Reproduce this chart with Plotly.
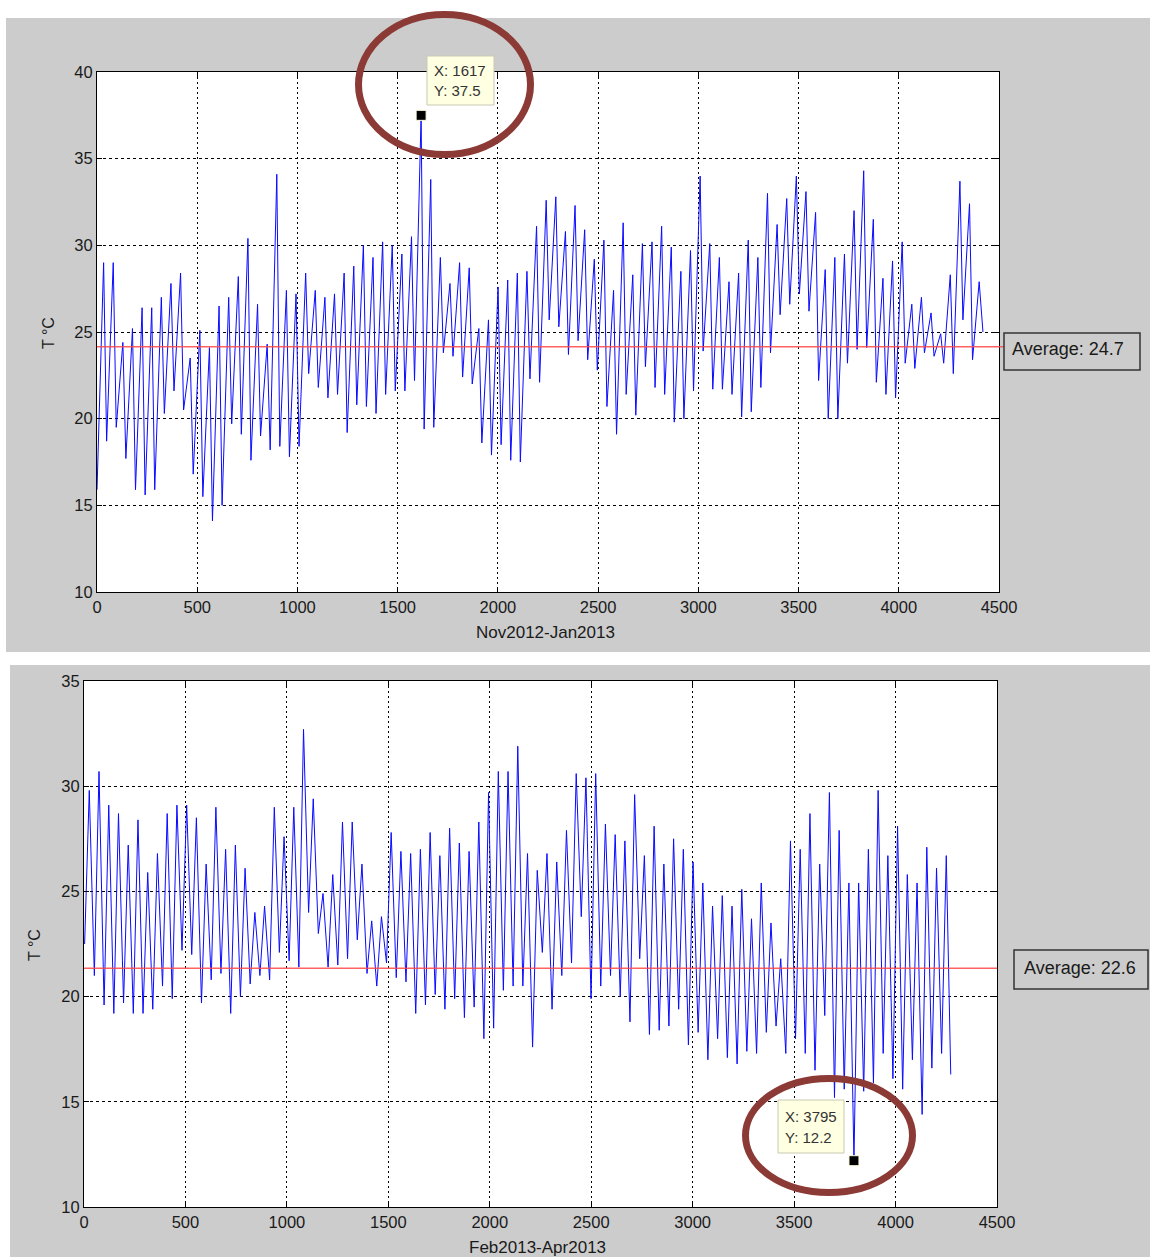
import plotly.graph_objects as go

# ---------------- data ----------------
# Nov2012-Jan2013: one daily minimum and one daily maximum (deg C), 48 samples/day
top_troughs = [15.9, 18.7, 19.5, 17.7, 15.9, 15.6, 15.9, 20.3, 21.6, 20.5, 16.8, 15.5,
               14.1, 15.0, 19.7, 19.1, 17.6, 19.0, 18.2, 18.4, 17.8, 18.4, 22.6, 21.8,
               21.2, 21.4, 19.2, 20.8, 20.7, 20.3, 21.4, 21.6, 21.6, 22.2, 19.4, 19.5,
               23.8, 23.6, 22.4, 22.0, 18.6, 17.9, 18.5, 17.6, 17.5, 22.3, 22.1, 25.7,
               25.3, 23.7, 24.5, 23.4, 22.8, 20.7, 19.1, 21.4, 20.2, 23.0, 21.8, 21.4,
               19.8, 20.0, 21.6, 23.9, 21.7, 21.7, 21.4, 20.1, 20.4, 21.8, 23.8, 26.0,
               26.6, 27.2, 26.2, 22.2, 20.0, 20.0, 23.2, 24.0, 24.1, 22.1, 21.4, 21.2,
               23.2, 22.9, 23.8, 23.6, 23.2, 22.6, 25.7, 23.4]
top_peaks = [29.0, 29.0, 24.4, 25.2, 26.4, 26.4, 27.0, 27.8, 28.4, 23.5, 25.1, 24.1,
             26.5, 27.0, 28.2, 30.4, 26.6, 24.3, 34.1, 27.4, 27.2, 28.4, 27.4, 27.0,
             27.2, 28.4, 28.8, 30.0, 29.3, 30.2, 30.0, 29.5, 30.5, 37.5, 33.8, 29.3,
             27.8, 29.0, 28.7, 25.2, 25.7, 27.6, 28.0, 28.4, 28.5, 31.1, 32.6, 32.8,
             30.8, 32.3, 30.9, 29.2, 30.3, 27.4, 31.3, 28.3, 30.1, 30.2, 31.1, 29.9,
             28.5, 29.7, 34.0, 30.1, 29.3, 27.9, 28.4, 30.3, 29.3, 33.0, 31.2, 32.7,
             34.0, 33.1, 31.9, 28.6, 29.3, 29.5, 32.0, 34.3, 31.5, 28.1, 29.1, 30.2,
             26.6, 27.0, 26.1, 24.9, 28.3, 33.7, 32.4, 27.9]
top_last = (4420, 25.0)
top_avg_line = 24.15
top_avg_label = "Average: 24.7"
top_tip = (1617, 37.5)

# Feb2013-Apr2013
bot_troughs = [22.5, 21.0, 19.6, 19.2, 19.7, 19.2, 19.2, 19.4, 20.5, 19.9, 22.2, 22.0,
               19.7, 20.8, 21.1, 19.2, 20.0, 20.6, 21.0, 20.8, 22.1, 21.7, 21.4,
               24.0, 23.0, 21.4, 21.5, 21.8, 22.7, 21.1, 20.5, 21.6, 20.9, 20.7, 19.2,
               19.6, 20.1, 19.4, 19.9, 19.0, 19.5, 18.0, 18.5, 20.3, 20.5, 20.5,
               17.6, 22.1, 19.4, 21.0, 21.6, 23.8, 19.9, 20.5, 21.0, 20.0, 18.8, 21.8,
               18.2, 18.4, 18.6, 19.4, 17.7, 18.3, 17.0, 18.0, 17.1, 16.8,
               17.4, 17.3, 18.3, 18.6, 17.3, 18.0, 17.3, 16.5, 19.1, 15.2, 15.6, 12.2,
               15.5, 15.9, 17.3, 16.1, 15.6, 17.0, 14.4, 16.6, 17.3]
bot_peaks = [29.8, 30.7, 29.1, 28.7, 27.2, 28.4, 25.9, 26.8, 28.7, 29.1, 29.1, 28.5,
             26.3, 29.0, 27.0, 27.2, 26.1, 24.0, 24.3, 29.0, 27.6, 29.0, 32.7,
             29.4, 24.9, 25.8, 28.3, 28.3, 26.3, 23.6, 23.8, 27.8, 26.9, 26.8, 27.0,
             27.8, 26.7, 28.0, 27.3, 26.9, 28.3, 29.7, 30.7, 30.7, 31.9, 26.8,
             26.0, 26.8, 26.4, 27.9, 30.6, 30.4, 30.6, 28.2, 27.7, 27.4, 29.6, 26.7,
             28.1, 26.3, 27.5, 27.0, 26.4, 25.4, 24.3, 24.8, 24.3, 25.1,
             23.7, 25.4, 23.5, 21.8, 27.4, 27.0, 28.7, 26.3, 29.7, 27.9, 25.4, 25.4,
             27.0, 29.8, 26.7, 28.1, 25.8, 25.4, 27.1, 26.1, 26.7]
bot_last = (4272, 16.3)
bot_avg_line = 21.35
bot_avg_label = "Average: 22.6"
bot_tip = (3795, 12.2)

x_ticks = [0, 500, 1000, 1500, 2000, 2500, 3000, 3500, 4000, 4500]
top_y_ticks = [10, 15, 20, 25, 30, 35, 40]
bot_y_ticks = [10, 15, 20, 25, 30, 35]
top_xlabel = "Nov2012-Jan2013"
bot_xlabel = "Feb2013-Apr2013"
ylabel = "T °C"

SAMPLES_PER_DAY = 48


def build(troughs, peaks, t_off, p_off, last):
    xs, ys = [], []
    for d, (lo, hi) in enumerate(zip(troughs, peaks)):
        xs += [d * SAMPLES_PER_DAY + t_off, d * SAMPLES_PER_DAY + p_off]
        ys += [lo, hi]
    xs.append(last[0])
    ys.append(last[1])
    return xs, ys


tx, ty = build(top_troughs, top_peaks, 0, 33, top_last)
bx, by = build(bot_troughs, bot_peaks, 3, 26, bot_last)

# ---------------- layout helpers ----------------
W, H = 1150, 1257


def PX(x):
    return x / W


def PY(y):
    return 1 - y / H


FONT = "Liberation Sans, Arial, sans-serif"
BLUE = "#0a0aff"
BROWN = "#8c3a35"
TXT = "#1a1a1a"

fig = go.Figure()
fig.add_trace(go.Scatter(x=tx, y=ty, mode="lines", line=dict(color=BLUE, width=1),
                         xaxis="x", yaxis="y", showlegend=False, hoverinfo="skip"))
fig.add_trace(go.Scatter(x=bx, y=by, mode="lines", line=dict(color=BLUE, width=1),
                         xaxis="x2", yaxis="y2", showlegend=False, hoverinfo="skip"))
fig.add_trace(go.Scatter(x=[top_tip[0]], y=[top_tip[1]], mode="markers",
                         marker=dict(symbol="square", size=10, color="black",
                                     line=dict(color="#ffffe1", width=1)),
                         xaxis="x", yaxis="y", showlegend=False, cliponaxis=False,
                         hoverinfo="skip"))
fig.add_trace(go.Scatter(x=[bot_tip[0]], y=[bot_tip[1]], mode="markers",
                         marker=dict(symbol="square", size=10, color="black",
                                     line=dict(color="#ffffe1", width=1)),
                         xaxis="x2", yaxis="y2", showlegend=False, cliponaxis=False,
                         hoverinfo="skip"))

axis_common = dict(showline=True, linecolor="black", linewidth=1, mirror="ticks",
                   ticks="inside", ticklen=5, tickcolor="black", showgrid=True,
                   gridcolor="black", gridwidth=1, zeroline=False, automargin=False,
                   tickfont=dict(family=FONT, size=16.5, color=TXT))

fig.update_layout(
    width=W, height=H, autosize=False,
    margin=dict(l=0, r=0, t=0, b=0, pad=0, autoexpand=False),
    paper_bgcolor="#cccccc", plot_bgcolor="white",
    xaxis=dict(domain=[PX(97), PX(999)], range=[0, 4500], tickvals=x_ticks,
               anchor="y", griddash="2px,3px", **axis_common),
    yaxis=dict(domain=[PY(592), PY(72)], range=[10, 40], tickvals=top_y_ticks,
               anchor="x", griddash="3px,3px", **axis_common),
    xaxis2=dict(domain=[PX(84), PX(997)], range=[0, 4500], tickvals=x_ticks,
                anchor="y2", griddash="2px,3px", **axis_common),
    yaxis2=dict(domain=[PY(1207), PY(681)], range=[10, 35], tickvals=bot_y_ticks,
                anchor="x2", griddash="3px,3px", **axis_common),
)

shapes = []
# white strips around the grey figure panels
for (x0, y0, x1, y1) in [(0, 0, 1150, 18), (0, 0, 6, 652), (0, 652, 1150, 665),
                         (0, 665, 10, 1257)]:
    shapes.append(dict(type="rect", xref="paper", yref="paper", x0=PX(x0), x1=PX(x1),
                       y0=PY(y1), y1=PY(y0), fillcolor="white", line=dict(width=0),
                       layer="below"))
# average lines
shapes.append(dict(type="line", xref="x domain", yref="y", x0=0, x1=1.005,
                   y0=top_avg_line, y1=top_avg_line,
                   line=dict(color="rgba(255,70,70,0.85)", width=1.6)))
shapes.append(dict(type="line", xref="x2 domain", yref="y2", x0=0, x1=1.0,
                   y0=bot_avg_line, y1=bot_avg_line,
                   line=dict(color="rgba(255,70,70,0.85)", width=1.6)))
# average boxes
for (x0, y0, x1, y1) in [(1004, 333, 1140, 370), (1014, 950, 1148, 989)]:
    shapes.append(dict(type="rect", xref="paper", yref="paper", x0=PX(x0), x1=PX(x1),
                       y0=PY(y1), y1=PY(y0), fillcolor="#cccccc",
                       line=dict(color="#333333", width=1.5)))
# data tip boxes
for (x0, y0, x1, y1) in [(427, 56, 494, 105), (778, 1100, 844, 1153)]:
    shapes.append(dict(type="rect", xref="paper", yref="paper", x0=PX(x0), x1=PX(x1),
                       y0=PY(y1), y1=PY(y0), fillcolor="#ffffe1",
                       line=dict(color="#c9c9b5", width=1)))
# highlight ellipses
for (x0, y0, x1, y1) in [(358.5, 14.5, 530.5, 154.5), (745.5, 1078.5, 912.5, 1192.5)]:
    shapes.append(dict(type="circle", xref="paper", yref="paper", x0=PX(x0), x1=PX(x1),
                       y0=PY(y1), y1=PY(y0), line=dict(color=BROWN, width=7)))
fig.update_layout(shapes=shapes)

ann = []


def text(x, y, s, size=17, angle=0, xanchor="center", color=TXT):
    ann.append(dict(x=PX(x), y=PY(y), xref="paper", yref="paper", text=s,
                    showarrow=False, textangle=angle, xanchor=xanchor, yanchor="middle",
                    font=dict(family=FONT, size=size, color=color)))


text(48, 333, ylabel, size=16)
ann[-1]["textangle"] = -90
text(545, 632, top_xlabel)
text(35, 945, ylabel, size=16)
ann[-1]["textangle"] = -90
text(537, 1247, bot_xlabel)
text(1068, 349, top_avg_label, size=18)
text(1080, 968, bot_avg_label, size=18)
text(432, 70, f"X: {top_tip[0]}", size=15, xanchor="left", color="#333333")
text(432, 90, f"Y: {top_tip[1]}", size=15, xanchor="left", color="#333333")
text(783, 1116, f"X: {bot_tip[0]}", size=15, xanchor="left", color="#333333")
text(783, 1137, f"Y: {bot_tip[1]}", size=15, xanchor="left", color="#333333")
fig.update_layout(annotations=ann)

POST = (
    "document.documentElement.style.margin='0';"
    "document.documentElement.style.overflow='hidden';"
    "document.body.style.margin='0';document.body.style.padding='0';"
    "document.body.style.overflow='hidden';"
    "var gd=document.getElementById('{plot_id}');"
    "gd.style.position='fixed';gd.style.left='0px';gd.style.top='0px';"
)

fig.write_html(
    "out.html",
    config={"displayModeBar": False, "responsive": False},
    post_script=POST,
)
